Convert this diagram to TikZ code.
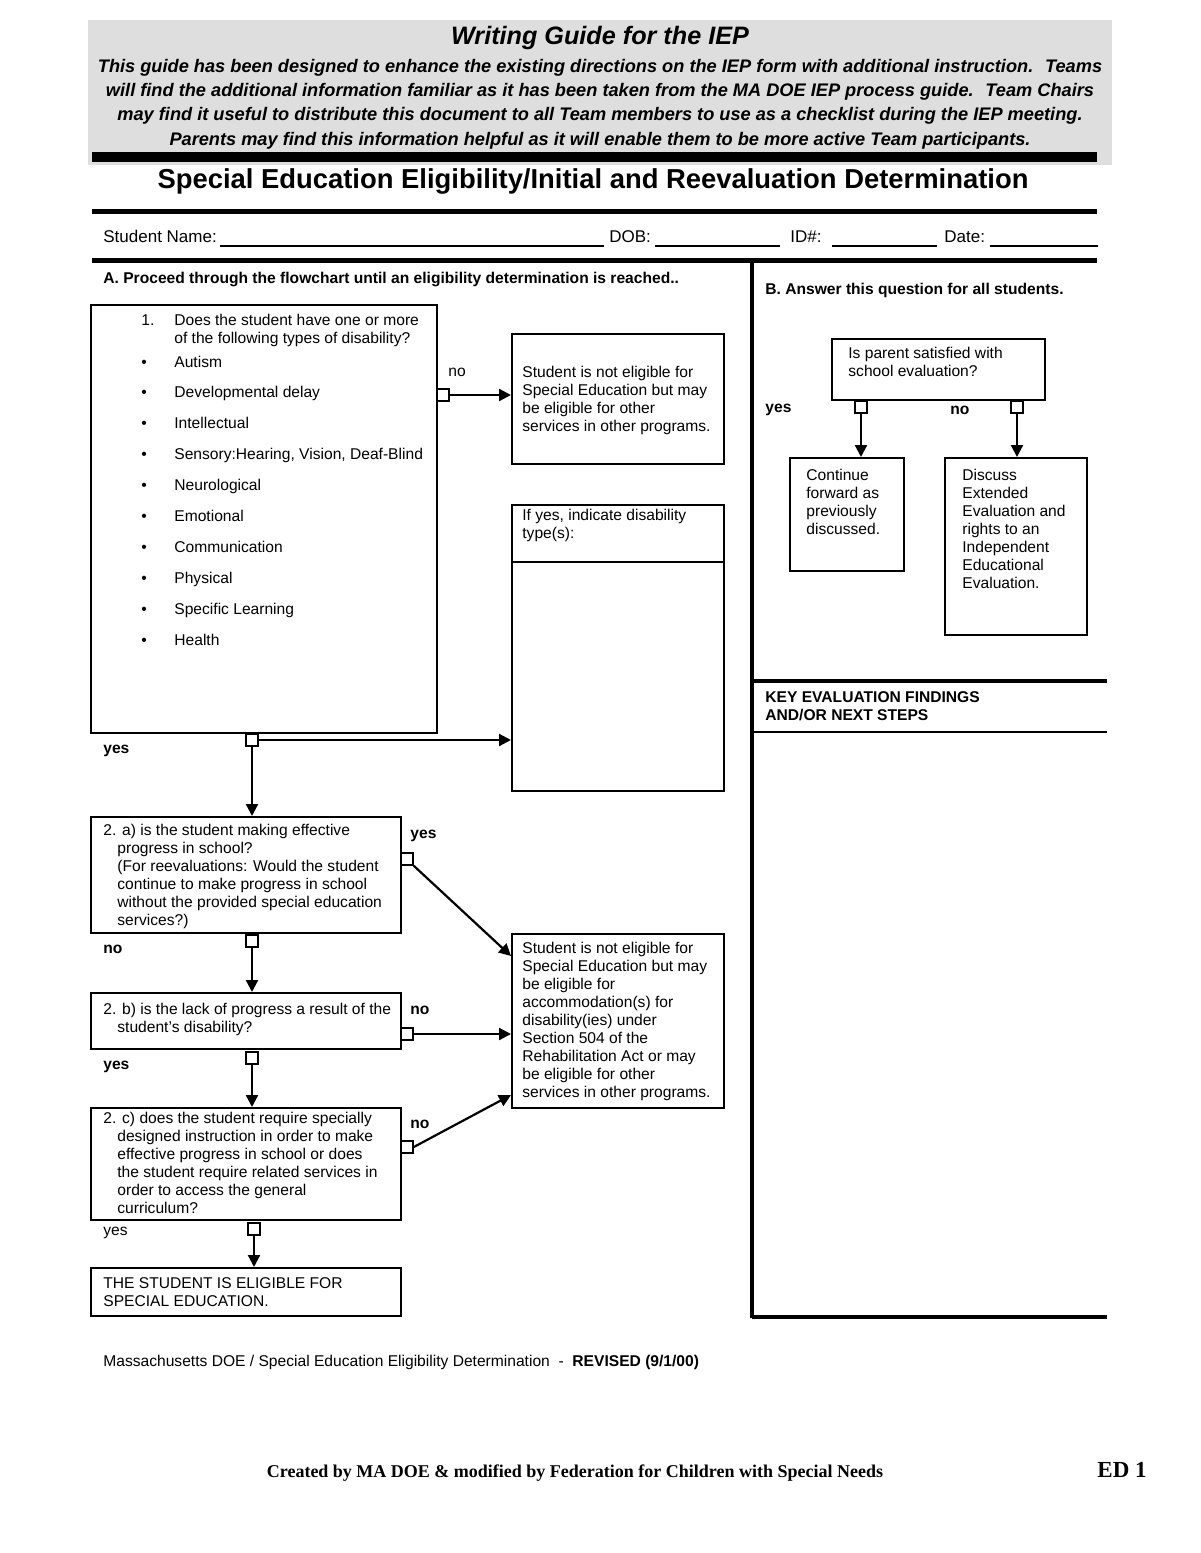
\documentclass[tikz,border=0pt]{standalone}
\usepackage{fontspec}
\setmainfont{Liberation Sans}
\newfontfamily\serfont{Liberation Serif}
\usetikzlibrary{arrows.meta,fit}
\definecolor{hdrgray}{HTML}{DEDEDE}
\newcommand\tstrut{\rule{0pt}{5.8pt}}
\begin{document}
\begin{tikzpicture}[x=0.5pt,y=-0.5pt,
  box/.style={draw, line width=1pt, inner sep=0pt},
  txt/.style={inner sep=0pt, anchor=north west, align=left, font=\fontsize{7.8}{9}\selectfont},
  one/.style={inner sep=0pt, anchor=base west, font=\fontsize{7.8}{9}\selectfont},
  lbl/.style={inner sep=0pt, anchor=base west, font=\bfseries\fontsize{7.8}{9}\selectfont},
  sq/.style={draw, line width=0.8pt, fill=white, minimum size=6pt, inner sep=0pt},
  arr/.style={line width=1.1pt, -{Triangle[length=6pt,width=6pt]}},
  rule/.style={line width=1pt},
]
\useasboundingbox (0,0) rectangle (1200,1553);
\fill[white] (0,0) rectangle (1200,1553);

% header
\fill[hdrgray] (88,20) rectangle (1112,165);
\node[font=\bfseries\itshape\fontsize{12.6}{14}\selectfont, inner sep=0] (hdrtitle) at (600,38) {Writing Guide for the IEP};
\node[font=\bfseries\itshape\fontsize{9.1}{12.15}\selectfont, align=center, inner sep=0] (hdrbody) at (600,104)
 {This guide has been designed to enhance the existing directions on the IEP form with additional instruction.~ Teams\\
  will find the additional information familiar as it has been taken from the MA DOE IEP process guide.~ Team Chairs\\
  may find it useful to distribute this document to all Team members to use as a checklist during the IEP meeting.\\
  Parents may find this information helpful as it will enable them to be more active Team participants.};
\fill (92,152) rectangle (1097,162);

% title
\node[font=\bfseries\fontsize{13.7}{16}\selectfont, inner sep=0] (title) at (593,181) {Special Education Eligibility/Initial and Reevaluation Determination};
\fill (92,209) rectangle (1097,214);

% student row
\node[anchor=base west, inner sep=0, font=\fontsize{8.5}{10}\selectfont] (sname) at (103,242) {Student Name:};
\draw[rule] (220,246) -- (604,246);
\node[anchor=base west, inner sep=0, font=\fontsize{8.5}{10}\selectfont] (dob) at (609,242) {DOB:};
\draw[rule] (655,246) -- (780,246);
\node[anchor=base west, inner sep=0, font=\fontsize{8.5}{10}\selectfont] (idn) at (790,242) {ID\#:};
\draw[rule] (832,246) -- (937,246);
\node[anchor=base west, inner sep=0, font=\fontsize{8.5}{10}\selectfont] (date) at (944,242) {Date:};
\draw[rule] (990,246) -- (1098,246);
\fill (92,258) rectangle (1097,263);

% dividers
\draw[line width=2.2pt] (752,263) -- (752,1318);
\draw[line width=1.8pt] (752,681) -- (1107,681);
\draw[line width=1.2pt] (752,732) -- (1107,732);
\draw[line width=1.8pt] (752,1317) -- (1107,1317);

% section A
\node[lbl] (secA) at (103,283) {A. Proceed through the flowchart until an eligibility determination is reached..};

\node[box, fit={(91,305)(437,733)}] (q1) {};
\node[one] (q1num) at (141,325) {1.};
\node[txt] (q1txt) at (174,313) {\tstrut Does the student have one or more\\of the following types of disability?};
\foreach \t [count=\i from 0] in {Autism, Developmental delay, Intellectual, {Sensory:Hearing, Vision, Deaf-Blind}, Neurological, Emotional, Communication, Physical, Specific Learning, Health} {
  \node[one] (bul\i) at (141,{367+30.9*\i}) {\textbullet};
  \node[one] (item\i) at (174,{367+30.9*\i}) {\t};
}

\node[box, fit={(512,334)(724,464)}] (ne1) {};
\node[txt] (ne1txt) at (522,365) {\tstrut Student is not eligible for\\Special Education but may\\be eligible for other\\services in other programs.};

\node[box, fit={(512,505)(724,791)}] (dtype) {};
\draw[rule] (512,562) -- (724,562);
\node[txt] (dtypetxt) at (522,508) {\tstrut If yes, indicate disability\\type(s):};

\node[box, fit={(91,817)(401,933)}] (q2a) {};
\node[txt] (q2atxt) at (103,823) {\tstrut 2. a) is the student making effective};
\node[txt] (q2atxtb) at (117,841) {\tstrut progress in school?\\(For reevaluations: Would the student\\continue to make progress in school\\without the provided special education\\services?)};

\node[box, fit={(91,993)(401,1049)}] (q2b) {};
\node[txt] (q2btxt) at (103,1002) {\tstrut 2. b) is the lack of progress a result of the};
\node[txt] (q2btxtb) at (117,1020) {\tstrut student’s disability?};

\node[box, fit={(91,1108)(401,1220)}] (q2c) {};
\node[txt] (q2ctxt) at (103,1111) {\tstrut 2. c) does the student require specially};
\node[txt] (q2ctxtb) at (117,1129) {\tstrut designed instruction in order to make\\effective progress in school or does\\the student require related services in\\order to access the general\\curriculum?};

\node[box, fit={(91,1268)(401,1316)}] (elig) {};
\node[txt] (eligtxt) at (103,1276) {\tstrut THE STUDENT IS ELIGIBLE FOR\\SPECIAL EDUCATION.};

\node[box, fit={(512,934)(724,1108)}] (ne2) {};
\node[txt] (ne2txt) at (522,941) {\tstrut Student is not eligible for\\Special Education but may\\be eligible for\\accommodation(s) for\\disability(ies) under\\Section 504 of the\\Rehabilitation Act or may\\be eligible for other\\services in other programs.};

% squares
\node[sq] (s1no) at (443,395) {};
\node[sq] (s1yes) at (252,740) {};
\node[sq] (s2ayes) at (407,859) {};
\node[sq] (s2ano) at (252,941) {};
\node[sq] (s2bno) at (407,1034) {};
\node[sq] (s2byes) at (252,1058) {};
\node[sq] (s2cno) at (407,1147) {};
\node[sq] (s2cyes) at (254,1229) {};

% labels
\node[one] (l1no) at (448,376) {no};
\node[lbl] (l1yes) at (103,753) {yes};
\node[lbl] (l2ayes) at (410,838) {yes};
\node[lbl] (l2ano) at (103,953) {no};
\node[lbl] (l2bno) at (410,1014) {no};
\node[lbl] (l2byes) at (103,1069) {yes};
\node[lbl] (l2cno) at (410,1128) {no};
\node[one] (l2cyes) at (103,1235) {yes};

% connectors
\draw[arr] (s1no.east) -- (s1no.east -| ne1.west);
\draw[arr] (s1yes.east) -- (s1yes.east -| dtype.west);
\draw[arr] (s1yes.south) -- (s1yes.south |- q2a.north);
\draw[arr] (s2ayes.south east) -- ([yshift=-11.5pt]ne2.north west);
\draw[arr] (s2ano.south) -- (s2ano.south |- q2b.north);
\draw[arr] (s2bno.east) -- (s2bno.east -| ne2.west);
\draw[arr] (s2byes.south) -- (s2byes.south |- q2c.north);
\draw[arr] (s2cno.east) -- ([yshift=7pt]ne2.south west);
\draw[arr] (s2cyes.south) -- (s2cyes.south |- elig.north);

% section B
\node[lbl] (secB) at (765,294) {B. Answer this question for all students.};
\node[box, fit={(832,339)(1045,400)}] (par) {};
\node[txt] (partxt) at (848,346) {\tstrut Is parent satisfied with\\school evaluation?};
\node[box, fit={(790,458)(904,571)}] (cont) {};
\node[txt] (conttxt) at (806,468) {\tstrut Continue\\forward as\\previously\\discussed.};
\node[box, fit={(945,458)(1087,635)}] (disc) {};
\node[txt] (disctxt) at (962,468) {\tstrut Discuss\\Extended\\Evaluation and\\rights to an\\Independent\\Educational\\Evaluation.};
\node[sq] (spyes) at (861,407) {};
\node[sq] (spno) at (1017,407) {};
\node[lbl] (lpyes) at (765,412) {yes};
\node[lbl] (lpno) at (950,414) {no};
\draw[arr] (spyes.south) -- (spyes.south |- cont.north);
\draw[arr] (spno.south) -- (spno.south |- disc.north);

\node[txt, font=\bfseries\fontsize{7.8}{9}\selectfont] (key) at (765,690) {\tstrut KEY EVALUATION FINDINGS\\AND/OR NEXT STEPS};

% footer
\node[one] (foot) at (103,1366) {Massachusetts DOE / Special Education Eligibility Determination~ -~ \textbf{REVISED (9/1/00)}};
\node[anchor=base, inner sep=0, font=\serfont\bfseries\fontsize{9}{11}\selectfont] (created) at (575,1477) {Created by MA DOE \& modified by Federation for Children with Special Needs};
\node[anchor=base west, inner sep=0, font=\serfont\bfseries\fontsize{11.5}{13}\selectfont] (ed) at (1097,1477) {ED 1};
\end{tikzpicture}
\end{document}
